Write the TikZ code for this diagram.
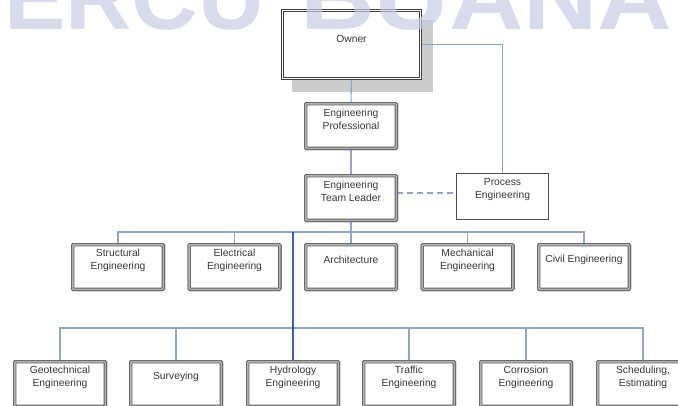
\documentclass[tikz,border=0pt]{standalone}
\usepackage{fontspec}
\setmainfont{Liberation Sans}
\definecolor{conn}{RGB}{140,165,215}
\definecolor{connd}{RGB}{55,95,200}
\definecolor{wmark}{RGB}{200,204,228}
\definecolor{txt}{RGB}{55,55,55}
\begin{document}
\begin{tikzpicture}[x=1pt,y=-1pt,
  box/.style={draw=black!62, double=black!30, line width=0.9pt, double distance=1.6pt,
    fill=white, minimum width=90.6pt, minimum height=44.6pt, inner sep=0pt, rounded corners=0.8pt},
  pbox/.style={draw=black!70, line width=1.3pt, fill=white,
    minimum width=91.7pt, minimum height=45.7pt, inner sep=0pt},
  obox/.style={draw=black!75, double=white, line width=0.6pt, double distance=1.6pt,
    fill=white, minimum width=138.2pt, minimum height=68.2pt, inner sep=0pt},
  lbl/.style={font=\fontsize{10.3}{13}\selectfont, align=center, text=txt, inner sep=0pt},
  wm/.style={anchor=base west, inner sep=0pt, text=wmark, opacity=0.7,
    font=\fontsize{92}{92}\selectfont\bfseries},
  cn/.style={draw=conn, line width=1.1pt},
  cnd/.style={draw=connd, line width=1.6pt},
  dsh/.style={draw=conn, line width=1.2pt, dash pattern=on 6pt off 4pt}]
\useasboundingbox (0,0) rectangle (678,405);
\clip (0,0) rectangle (678,405);
\fill[white] (0,0) rectangle (678,405);

\coordinate (b1) at (293,232);
\coordinate (b2) at (293,328);

% shadow of owner
\fill[black!20] (292,20) rectangle (433,92);

\node[obox] (owner) at (351.5,44.5) {};
\node[box] (prof) at (351,126) {};
\node[box] (lead) at (351,198) {};
\node[pbox] (proc) at (502.5,196.5) {};

\node[box] (str) at (118,267) {};
\node[box] (ele) at (234.5,267) {};
\node[box] (arc) at (351,267) {};
\node[box] (mec) at (467.5,267) {};
\node[box] (civ) at (584,267) {};

\node[box] (geo) at (60,384) {};
\node[box] (sur) at (176,384) {};
\node[box] (hyd) at (293,384) {};
\node[box] (tra) at (409,384) {};
\node[box] (cor) at (526,384) {};
\node[box] (sch) at (643,384) {};

% connectors
\draw[cn] (owner.south) -- (prof.north);
\draw[cn] (prof.south) -- (lead.north);
\draw[cn] (lead.south) -- (arc.north);
\draw[cn] (owner.east) -| (proc.north);
\draw[dsh] ([yshift=5pt]lead.east) -- ([yshift=5pt]lead.east -| proc.west);
\draw[cn] (str.north) |- (b1) -| (civ.north);
\draw[cn] (ele.north) -- (ele.north |- b1);
\draw[cn] (mec.north) -- (mec.north |- b1);
\draw[cn] (geo.north) |- (b2) -| (sch.north);
\draw[cn] (sur.north) -- (sur.north |- b2);
\draw[cn] (tra.north) -- (tra.north |- b2);
\draw[cn] (cor.north) -- (cor.north |- b2);
\draw[cnd] (b1) -- (hyd.north);

% boxes drawn again over the connector ends
\node[obox] at (owner) {};
\node[box] at (prof) {};
\node[box] at (lead) {};
\node[pbox] at (proc) {};
\foreach \n in {str,ele,arc,mec,civ,geo,sur,hyd,tra,cor,sch}
  \node[box] at (\n) {};

% labels
\node[lbl] (towner) at ([yshift=-29pt]owner.north) {Owner};
\node[lbl] at ([yshift=-16.5pt]prof.north) {Engineering\\Professional};
\node[lbl] at ([yshift=-16.5pt]lead.north) {Engineering\\Team Leader};
\node[lbl] at ([yshift=-16.5pt]proc.north) {Process\\Engineering};
\node[lbl] at ([yshift=-16pt]str.north) {Structural\\Engineering};
\node[lbl] at ([yshift=-16pt]ele.north) {Electrical\\Engineering};
\node[lbl] at ([yshift=-16pt]arc.north) {Architecture};
\node[lbl] at ([yshift=-16pt]mec.north) {Mechanical\\Engineering};
\node[lbl] at ([yshift=-16pt]civ.north) {Civil Engineering};
\node[lbl] at ([yshift=-16pt]geo.north) {Geotechnical\\Engineering};
\node[lbl] at ([yshift=-16pt]sur.north) {Surveying};
\node[lbl] at ([yshift=-16pt]hyd.north) {Hydrology\\Engineering};
\node[lbl] at ([yshift=-16pt]tra.north) {Traffic\\Engineering};
\node[lbl] at ([yshift=-16pt]cor.north) {Corrosion\\Engineering};
\node[lbl] at ([yshift=-16pt]sch.north) {Scheduling,\\Estimating};

% watermark
\node[wm] (wm1) at (4,29) {ERCU};
\node[wm, xscale=1.12, anchor=base west] (wm2) at (300,29) {BUANA};
\end{tikzpicture}
\end{document}
